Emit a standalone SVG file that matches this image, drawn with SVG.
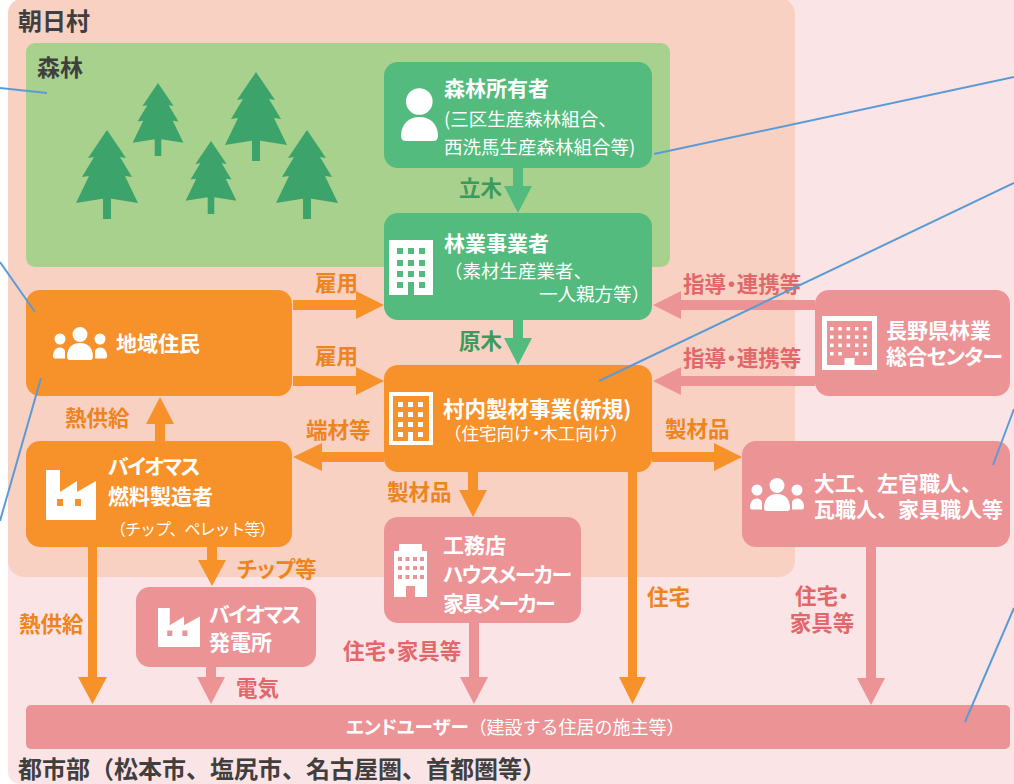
<svg xmlns="http://www.w3.org/2000/svg" xmlns:xlink="http://www.w3.org/1999/xlink" width="1014" height="784" viewBox="0 0 1014 784">
  <style>
    text { font-family: "Noto Sans CJK JP", "Noto Sans", sans-serif; }
    .b { font-weight: 700; }
    .w { fill: #ffffff; }
    .hd { fill: #3f3f3f; font-weight: 700; font-size: 24px; }
    .nm { font-size: 21px; font-weight: 700; fill: #ffffff; }
    .sub { font-size: 18.5px; fill: #ffffff; }
    .lbl { font-size: 21.5px; font-weight: 700; }
    .lo { fill: #ee8420; }
    .lp { fill: #e2676b; }
    .lg { fill: #3b9a5d; }
    .palt { font-feature-settings: "palt" 1; }
    .kana { letter-spacing: -1.6px; }
    .green { fill: #52bb7d; }
    .orange { fill: #f7922a; }
    .pink { fill: #ec9396; }
    .link { stroke: #5b9bd5; stroke-width: 2; fill: none; }
  </style>
  <defs>
    <!-- pine tree, apex at origin -->
    <g id="tree" fill="#3ca46a">
      <path d="M0,0 L19,28 L13,27 L25,47 L18,46 L31,73 L0,68 L-31,73 L-18,46 L-25,47 L-13,27 L-19,28 Z"/>
      <rect x="-4" y="66" width="8" height="23"/>
    </g>
    <!-- group of three people, centred on origin -->
    <g id="people" fill="#ffffff">
      <circle cx="0" cy="-8.5" r="7.5"/>
      <path d="M-13,14 C-13,4 -7,0 0,0 C7,0 13,4 13,14 Q13,17 10,17 H-10 Q-13,17 -13,14 Z"/>
      <circle cx="-20" cy="-4" r="5.5"/>
      <circle cx="20" cy="-4" r="5.5"/>
      <path d="M-27,13 C-27,8 -24,4.5 -20.5,4.5 C-17.5,4.5 -15,6 -15,9 V15.5 H-25 Q-27,15.5 -27,13 Z"/>
      <path d="M27,13 C27,8 24,4.5 20.5,4.5 C17.5,4.5 15,6 15,9 V15.5 H25 Q27,15.5 27,13 Z"/>
    </g>
    <!-- factory silhouette with two window holes, 50 x 50 -->
    <path id="factory" fill="#ffffff" fill-rule="evenodd"
          d="M0,0 H14 V22 L31,11 V22 L50,11 V50 H0 Z M11,29 V36 H17 V29 Z M29,29 V36 H35 V29 Z"/>
  </defs>

  <!-- backgrounds -->
  <rect x="8" y="0" width="1030" height="784" rx="12" fill="#fbe4e5"/>
  <rect x="8" y="-2" width="787" height="579" rx="16" fill="#f8d1c3"/>
  <rect x="26" y="43" width="644" height="224" rx="9" fill="#a9d18e"/>

  <text class="hd" x="18" y="30">朝日村</text>
  <text class="hd" x="37" y="76" style="font-size:23px">森林</text>
  <text class="hd" x="18" y="778">都市部（松本市、塩尻市、名古屋圏、首都圏等）</text>

  <!-- forest -->
  <g id="forest-trees">
    <use href="#tree" transform="translate(107,130)"/>
    <use href="#tree" transform="translate(158,83) scale(0.82)"/>
    <use href="#tree" transform="translate(211,141) scale(0.82)"/>
    <use href="#tree" transform="translate(256,72)"/>
    <use href="#tree" transform="translate(307,130)"/>
  </g>

  <!-- connectors -->
  <g id="connectors">
    <path class="green" d="M513,168 H523 V186 H532 L518,213 L504,186 H513 Z"/>
    <path class="green" d="M513,320 H523 V338 H532 L518,365 L504,338 H513 Z"/>
    <path class="orange" d="M293,300 H356 V291 L384,305 L356,319 V310 H293 Z"/>
    <path class="orange" d="M293,376 H356 V367 L384,381 L356,395 V386 H293 Z"/>
    <path class="pink" d="M815,300 H681 V291 L653,305 L681,319 V310 H815 Z"/>
    <path class="pink" d="M815,376 H681 V367 L653,381 L681,395 V386 H815 Z"/>
    <path class="orange" d="M155,441 V424 H146 L160,397 L174,424 H165 V441 Z"/>
    <path class="orange" d="M384,452 H322 V443 L293,457 L322,471 V462 H384 Z"/>
    <path class="orange" d="M652,452 H714 V443 L742,457 L714,471 V462 H652 Z"/>
    <path class="orange" d="M468,472 H478 V490 H487 L473,517 L459,490 H468 Z"/>
    <path class="orange" d="M628,472 H637 V677 H646 L632.5,704 L619,677 H628 Z"/>
    <path class="orange" d="M207,547 H217 V560 H226 L212,586 L198,560 H207 Z"/>
    <path class="orange" d="M88,547 H97 V677 H107 L92.5,704 L78,677 H88 Z"/>
    <path class="pink" d="M206,667 H216 V677 H225 L211,704 L197,677 H206 Z"/>
    <path class="pink" d="M469,623 H479 V677 H488 L474,704 L460,677 H469 Z"/>
    <path class="pink" d="M866,547 H876 V678 H885 L871,705 L857,678 H866 Z"/>

    <text class="lbl lg" x="459" y="196">立木</text>
    <text class="lbl lg" x="459" y="349">原木</text>
    <text class="lbl lo" x="315" y="291">雇用</text>
    <text class="lbl lo" x="315" y="364">雇用</text>
    <text class="lbl lp palt" x="683" y="292">指導・連携等</text>
    <text class="lbl lp palt" x="683" y="366">指導・連携等</text>
    <text class="lbl lo" x="65" y="426">熱供給</text>
    <text class="lbl lo" x="306" y="438">端材等</text>
    <text class="lbl lo" x="665" y="437">製材品</text>
    <text class="lbl lo" x="387" y="500">製材品</text>
    <text class="lbl lo palt" x="237" y="577">チップ等</text>
    <text class="lbl lo" x="19" y="632">熱供給</text>
    <text class="lbl lp" x="236" y="696">電気</text>
    <text class="lbl lp palt" x="343" y="659">住宅・家具等</text>
    <text class="lbl lo" x="647" y="605">住宅</text>
    <text class="lbl lp palt" x="822" y="604" text-anchor="middle">住宅・</text>
    <text class="lbl lp" x="822" y="631" text-anchor="middle">家具等</text>
  </g>

  <!-- forest owners -->
  <g id="forest-owner">
    <rect class="green" x="384" y="62" width="268" height="106" rx="14"/>
    <circle cx="419.3" cy="101.5" r="13.3" fill="#ffffff"/>
    <path fill="#ffffff" d="M401,136 C401,124 409,117 419.5,117 C430,117 438,124 438,136 Q438,141 433,141 H406 Q401,141 401,136 Z"/>
    <text class="nm" x="444" y="96">森林所有者</text>
    <text class="sub" x="444" y="126">(三区生産森林組合、</text>
    <text class="sub" x="444" y="154">西洗馬生産森林組合等)</text>
  </g>

  <!-- forestry operators -->
  <g id="forestry-operator">
    <rect class="green" x="384" y="213" width="268" height="107" rx="14"/>
    <path fill="#ffffff" fill-rule="evenodd"
          d="M389,240 H433 V295 H389 Z
             M397,248 v6 h6 v-6 Z M408,248 v6 h6 v-6 Z M419,248 v6 h6 v-6 Z
             M397,260 v6 h6 v-6 Z M408,260 v6 h6 v-6 Z M419,260 v6 h6 v-6 Z
             M397,271 v6 h6 v-6 Z M408,271 v6 h6 v-6 Z M419,271 v6 h6 v-6 Z
             M397,282 v6 h6 v-6 Z M408,282 v13 h6 v-13 Z M419,282 v6 h6 v-6 Z"/>
    <text class="nm" x="444" y="251">林業事業者</text>
    <text class="sub" x="444" y="278">（素材生産業者、</text>
    <text class="sub" x="650" y="301" text-anchor="end">一人親方等）</text>
  </g>

  <!-- local residents -->
  <g id="residents">
    <rect class="orange" x="26" y="290" width="266" height="106" rx="14"/>
    <use href="#people" transform="translate(80,343)"/>
    <text class="nm" x="116" y="351">地域住民</text>
  </g>

  <!-- village sawmill -->
  <g id="sawmill">
    <rect class="orange" x="384" y="365" width="268" height="107" rx="14"/>
    <rect x="391" y="394" width="40" height="49" fill="none" stroke="#ffffff" stroke-width="4"/>
    <g fill="#ffffff">
      <rect x="398" y="402" width="5" height="5"/><rect x="408" y="402" width="5" height="5"/><rect x="418" y="402" width="5" height="5"/>
      <rect x="398" y="412" width="5" height="5"/><rect x="408" y="412" width="5" height="5"/><rect x="418" y="412" width="5" height="5"/>
      <rect x="398" y="422" width="5" height="5"/><rect x="408" y="422" width="5" height="5"/><rect x="418" y="422" width="5" height="5"/>
      <rect x="398" y="432" width="5" height="5"/><rect x="408" y="432" width="5" height="11"/><rect x="418" y="432" width="5" height="5"/>
    </g>
    <text class="nm" x="443" y="417" style="font-size:21.5px">村内製材事業(新規)</text>
    <text class="sub" x="444" y="440" style="font-size:17.5px">（住宅向け<tspan class="palt">・</tspan>木工向け）</text>
  </g>

  <!-- biomass fuel producer -->
  <g id="biomass-fuel">
    <rect class="orange" x="26" y="441" width="266" height="106" rx="14"/>
    <use href="#factory" transform="translate(46,470)"/>
    <text class="nm palt kana" x="108" y="474">バイオマス</text>
    <text class="nm" x="108" y="504">燃料製造者</text>
    <text class="sub" x="110" y="535" style="font-size:16px;letter-spacing:-1px">（チップ、ペレット等）</text>
  </g>

  <!-- builders and makers -->
  <g id="builders">
    <rect class="pink" x="384" y="517" width="197" height="106" rx="14"/>
    <path fill="#ffffff" fill-rule="evenodd"
          d="M399,544 H422 V551 H427 V597 H394 V551 H399 Z
             M398,557 v4 h4 v-4 Z M405.5,557 v4 h4 v-4 Z M413,557 v4 h4 v-4 Z M420,557 v4 h4 v-4 Z
             M398,566 v4 h4 v-4 Z M405.5,566 v4 h4 v-4 Z M413,566 v4 h4 v-4 Z M420,566 v4 h4 v-4 Z
             M398,575 v4 h4 v-4 Z M405.5,575 v4 h4 v-4 Z M413,575 v4 h4 v-4 Z M420,575 v4 h4 v-4 Z
             M406,586 v11 h9 v-11 Z"/>
    <text class="nm" x="443" y="553">工務店</text>
    <text class="nm palt kana" x="443" y="582">ハウスメーカー</text>
    <text class="nm palt kana" x="443" y="611">家具メーカー</text>
  </g>

  <!-- prefectural forestry centre -->
  <g id="forestry-centre">
    <rect class="pink" x="815" y="290" width="195" height="106" rx="14"/>
    <rect x="824.5" y="318.5" width="50" height="49" fill="none" stroke="#ffffff" stroke-width="5"/>
    <g fill="#ffffff">
      <rect x="830" y="327" width="3.5" height="3.5"/><rect x="838.3" y="327" width="3.5" height="3.5"/><rect x="846.6" y="327" width="3.5" height="3.5"/><rect x="855" y="327" width="3.5" height="3.5"/><rect x="863.3" y="327" width="3.5" height="3.5"/>
      <rect x="830" y="335.3" width="3.5" height="3.5"/><rect x="838.3" y="335.3" width="3.5" height="3.5"/><rect x="846.6" y="335.3" width="3.5" height="3.5"/><rect x="855" y="335.3" width="3.5" height="3.5"/><rect x="863.3" y="335.3" width="3.5" height="3.5"/>
      <rect x="830" y="343.6" width="3.5" height="3.5"/><rect x="838.3" y="343.6" width="3.5" height="3.5"/><rect x="846.6" y="343.6" width="3.5" height="3.5"/><rect x="855" y="343.6" width="3.5" height="3.5"/><rect x="863.3" y="343.6" width="3.5" height="3.5"/>
      <rect x="830" y="352" width="3.5" height="3.5"/><rect x="838.3" y="352" width="3.5" height="3.5"/><rect x="855" y="352" width="3.5" height="3.5"/><rect x="863.3" y="352" width="3.5" height="3.5"/>
      <rect x="844.5" y="358" width="10" height="10"/>
    </g>
    <text class="nm" x="886" y="338">長野県林業</text>
    <text class="nm palt" x="886" y="364" style="letter-spacing:-0.8px">総合センター</text>
  </g>

  <!-- craftsmen -->
  <g id="craftsmen">
    <rect class="pink" x="742" y="441" width="268" height="106" rx="14"/>
    <use href="#people" transform="translate(777,494)"/>
    <text class="nm" x="814" y="491">大工、左官職人、</text>
    <text class="nm" x="814" y="517">瓦職人、家具職人等</text>
  </g>

  <!-- biomass power plant -->
  <g id="biomass-power">
    <rect class="pink" x="136" y="587" width="180" height="80" rx="14"/>
    <use href="#factory" transform="translate(158,608) scale(0.84,0.78)"/>
    <text class="nm palt kana" x="209" y="622">バイオマス</text>
    <text class="nm" x="209" y="650">発電所</text>
  </g>

  <!-- end users -->
  <g id="end-users">
    <rect class="pink" x="26" y="705" width="984" height="44" rx="5"/>
    <text x="346" y="734" class="w"><tspan class="b palt" style="font-size:18.5px">エンドユーザー</tspan><tspan style="font-size:18px">（建設する住居の施主等）</tspan></text>
  </g>

  <!-- callout leader lines -->
  <g id="leaders">
    <line class="link" x1="0" y1="88" x2="47" y2="93"/>
    <line class="link" x1="0" y1="262" x2="35" y2="312"/>
    <line class="link" x1="41" y1="378" x2="0" y2="521"/>
    <line class="link" x1="654" y1="154" x2="1014" y2="77"/>
    <line class="link" x1="599" y1="381" x2="1014" y2="183"/>
    <line class="link" x1="993" y1="465" x2="1014" y2="409"/>
    <line class="link" x1="965" y1="722" x2="1014" y2="608"/>
  </g>
</svg>
